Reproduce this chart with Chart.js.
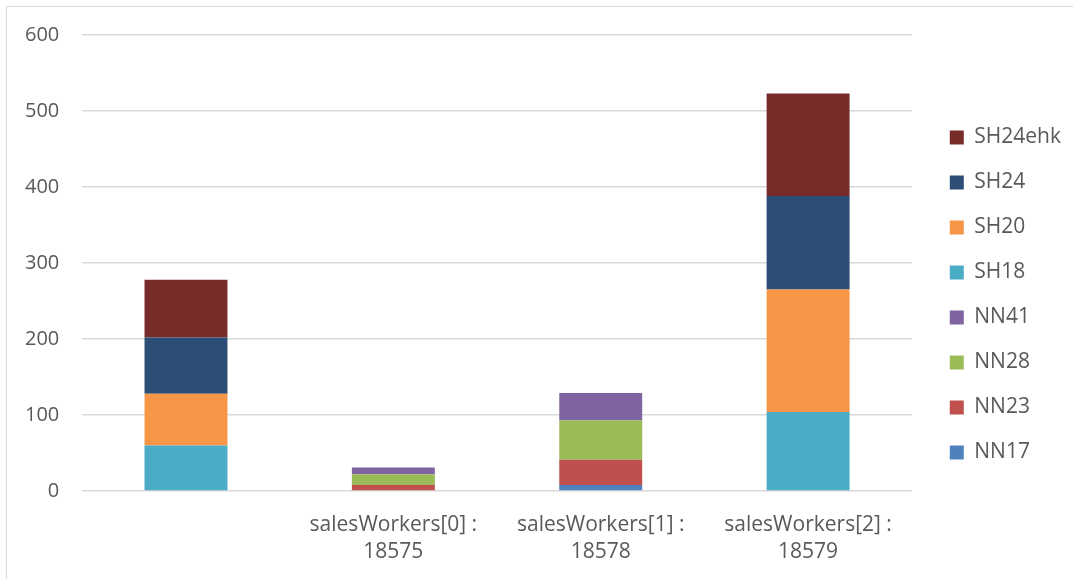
<!DOCTYPE html>
<html>
<head>
<meta charset="utf-8">
<title>salesWorkers</title>
<script src="https://cdn.jsdelivr.net/npm/chart.js@4.4.1/dist/chart.umd.min.js"></script>
<style>
    html, body {
        margin: 0;
        padding: 0;
        background: #ffffff;
        overflow: hidden;
    }
    .frame {
        position: absolute;
        left: 6px;
        top: 6px;
        width: 1200px;
        height: 700px;
        border: 1.5px solid #d9d9d9;
    }
    .chart-box {
        position: absolute;
        left: 0;
        top: 0;
        width: 1073px;
        height: 579px;
    }
</style>
</head>
<body>
<div class="frame"></div>
<div class="chart-box">
    <canvas id="workersChart" width="1073" height="579"></canvas>
</div>
<script>
// Categories (first one has no label)
const categories = [
    '',
    ['salesWorkers[0] :', '18575'],
    ['salesWorkers[1] :', '18578'],
    ['salesWorkers[2] :', '18579']
];

// Stack segments per category
const nn17 = [0, 0, 8, 0];
const nn23 = [0, 8, 33, 0];
const nn28 = [0, 14, 52, 0];
const nn41 = [0, 9, 36, 0];
const sh18 = [60, 0, 0, 104];
const sh20 = [68, 0, 0, 161];
const sh24 = [74, 0, 0, 123];
const sh24ehk = [76, 0, 0, 135];

const yTicks = [0, 100, 200, 300, 400, 500, 600];

const seriesNames = ['NN17', 'NN23', 'NN28', 'NN41', 'SH18', 'SH20', 'SH24', 'SH24ehk'];
const seriesData = [nn17, nn23, nn28, nn41, sh18, sh20, sh24, sh24ehk];
const seriesColors = ['#4f81bd', '#c0504d', '#9bbb59', '#8064a2', '#4bacc6', '#f79646', '#2c4d75', '#772c2a'];

const textColor = '#595959';
const fontFamily = '"Open Sans", "Liberation Sans", sans-serif';

// Push the legend a little away from the plot area and lift it slightly
const legendGap = {
    id: 'legendGap',
    afterLayout(chart) {
        const legend = chart.legend;
        const shift = chart.chartArea.right + 14 - legend.left;
        legend.left += shift;
        legend.right += shift;
        legend.top -= 10;
        legend.bottom -= 10;
    }
};

const ctx = document.getElementById('workersChart');
new Chart(ctx, {
    type: 'bar',
    data: {
        labels: categories,
        datasets: seriesNames.map((name, i) => ({
            label: name,
            data: seriesData[i],
            backgroundColor: seriesColors[i],
            borderWidth: 0,
            barPercentage: 0.4,
            categoryPercentage: 1
        }))
    },
    options: {
        responsive: false,
        animation: false,
        layout: {
            padding: { top: 23, left: 2, right: 16, bottom: -8 }
        },
        scales: {
            x: {
                stacked: true,
                grid: { display: false, drawTicks: false },
                border: { display: false },
                ticks: {
                    color: textColor,
                    padding: 21,
                    maxRotation: 0,
                    font: { family: fontFamily, size: 21, lineHeight: 1.286 }
                }
            },
            y: {
                stacked: true,
                min: 0,
                max: 600,
                afterBuildTicks: axis => {
                    axis.ticks = yTicks.map(v => ({ value: v }));
                },
                grid: {
                    color: '#d9d9d9',
                    lineWidth: 1.5,
                    drawTicks: false
                },
                border: { display: false },
                ticks: {
                    color: textColor,
                    padding: 23,
                    font: { family: fontFamily, size: 20 }
                }
            }
        },
        plugins: {
            legend: {
                position: 'right',
                reverse: true,
                labels: {
                    color: textColor,
                    boxWidth: 14,
                    boxHeight: 14,
                    padding: 24,
                    font: { family: fontFamily, size: 21 }
                }
            },
            tooltip: { enabled: false }
        }
    },
    plugins: [legendGap]
});
</script>
</body>
</html>
